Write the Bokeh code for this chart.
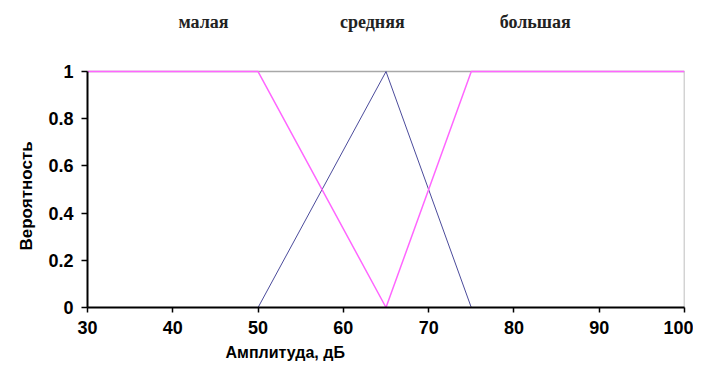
from bokeh.plotting import figure
from bokeh.models import FixedTicker, Range1d, Title
from bokeh.core.properties import value
from bokeh.embed import file_html
from bokeh.resources import INLINE

# data
x_low = [30, 50, 65]
y_low = [1, 1, 0]
x_mid = [30, 50, 65, 75, 100]
y_mid = [0, 0, 1, 0, 0]
x_high = [65, 75, 100]
y_high = [0, 1, 1]

term_names = ["малая", "средняя", "большая"]
term_x = [43.6, 63.4, 82.5]
term_y = [1.208, 1.208, 1.208]

x_ticks = [30, 40, 50, 60, 70, 80, 90, 100]
y_ticks = [0, 0.2, 0.4, 0.6, 0.8, 1]
y_tick_labels = ["0", "0.2", "0.4", "0.6", "0.8", "1"]

x_title = "Амплитуда, дБ"
y_title = "Вероятность"

p = figure(width=693, height=368, output_backend="svg", toolbar_location=None,
           x_range=Range1d(30, 100), y_range=Range1d(0, 1.28),
           min_border_left=87, min_border_right=9, min_border_top=5, min_border_bottom=61)

p.xgrid.visible = False
p.ygrid.visible = False
p.outline_line_color = None

# plot-area border (top and right)
p.line([30, 100, 100], [1, 1, 0], line_color="#A8A8A8", line_width=1.5)

p.line(x_mid, y_mid, line_color="#4B4B9B", line_width=1)
p.line(x_low, y_low, line_color="#FF66FF", line_width=1.5)
p.line(x_high, y_high, line_color="#FF66FF", line_width=1.5)

p.text(x=term_x, y=term_y, text=term_names, text_align="center", text_baseline="middle",
       text_font=value("Liberation Serif"), text_font_style="bold",
       text_font_size="18px", text_color="#222222")

for ax in (p.xaxis[0], p.yaxis[0]):
    ax.axis_line_color = "black"
    ax.axis_line_width = 2
    ax.major_tick_line_color = "black"
    ax.major_tick_line_width = 1.5
    ax.major_tick_in = 0
    ax.minor_tick_line_color = None
    ax.major_label_text_font = "Liberation Sans"
    ax.major_label_text_font_style = "bold"
    ax.major_label_text_font_size = "18px"
    ax.major_label_text_color = "black"

p.xaxis[0].major_tick_out = 5
p.xaxis[0].major_label_standoff = 8
p.yaxis[0].major_tick_out = 6
p.yaxis[0].major_label_standoff = 8

p.yaxis[0].bounds = (0, 1)
p.xaxis[0].ticker = FixedTicker(ticks=x_ticks)
p.yaxis[0].ticker = FixedTicker(ticks=y_ticks)
p.yaxis[0].major_label_overrides = {t: l for t, l in zip(y_ticks, y_tick_labels)}

p.add_layout(Title(text=x_title, align="left", offset=138, standoff=10,
                   text_font="Liberation Sans", text_font_style="bold",
                   text_font_size="16px", text_color="black"), "below")
p.add_layout(Title(text=y_title, align="left", offset=57, standoff=20,
                   text_font="Liberation Sans", text_font_style="bold",
                   text_font_size="17px", text_color="black"), "left")

open("out.html", "w").write(file_html(p, INLINE))
